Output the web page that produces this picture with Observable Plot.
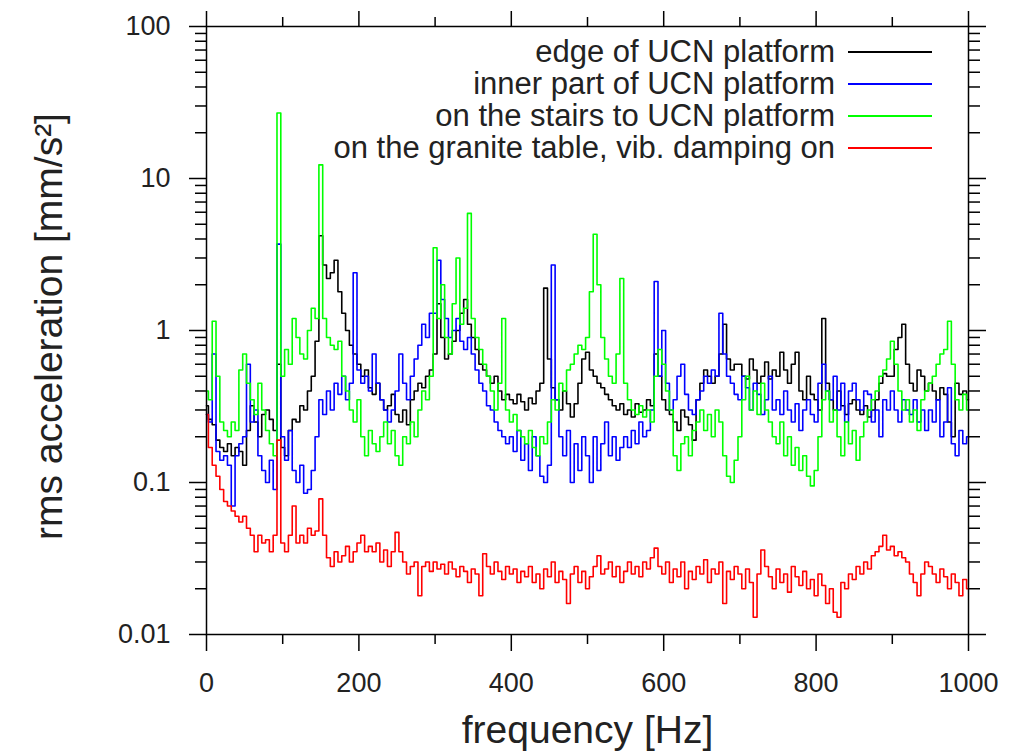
<!DOCTYPE html>
<html>
<head>
<meta charset="utf-8">
<script src="https://cdn.jsdelivr.net/npm/d3@7"></script>
<script src="https://cdn.jsdelivr.net/npm/@observablehq/plot@0.6"></script>
<style>
  html, body { margin: 0; padding: 0; background: #fff; }
  #wrap { position: relative; width: 1014px; height: 752px; overflow: hidden; font-family: "Liberation Sans", Arial, sans-serif; }
  #legend { position: absolute; left: 0; top: 36px; width: 932px; }
  .row { display: flex; justify-content: flex-end; align-items: center; height: 32px; }
  .row span { font-size: 31px; color: #222; margin-right: 13px; white-space: nowrap; line-height: 32px; }
  .row i { display: block; width: 84px; height: 2px; }
</style>
</head>
<body>
<div id="wrap"><div id="legend"></div></div>
<script>
// frequency grid in Hz (5 Hz steps)
const freq = d3.range(0, 1001, 5);

const seriesNames = [
  "edge of UCN platform",
  "inner part of UCN platform",
  "on the stairs to UCN platform",
  "on the granite table, vib. damping on"
];
const seriesColors = ["#000000", "#0000ff", "#00ff00", "#ff0000"];

// rms acceleration [mm/s^2]
const edge = [
  0.32,0.26,0.24,0.19,0.17,0.16,0.18,0.15,0.17,0.16,
  0.13,0.22,0.32,0.25,0.20,0.28,0.30,0.26,0.22,0.60,
  0.17,0.15,0.22,0.26,0.25,0.32,0.30,0.40,0.50,0.85,
  4.2,2.7,2.2,2.4,2.9,1.8,1.3,1.0,0.8,0.7,
  0.6,0.5,0.55,0.42,0.38,0.45,0.35,0.30,0.32,0.38,
  0.28,0.25,0.30,0.24,0.35,0.40,0.45,0.42,0.50,0.55,
  0.7,1.5,0.9,0.65,0.7,0.85,1.0,1.3,1.6,1.1,
  0.9,0.75,0.6,0.55,0.5,0.45,0.5,0.4,0.35,0.38,
  0.35,0.33,0.38,0.34,0.30,0.36,0.33,0.40,0.45,1.9,
  0.65,0.42,0.35,0.30,0.40,0.33,0.27,0.33,0.45,0.65,
  0.72,0.55,0.5,0.45,0.42,0.38,0.35,0.32,0.30,0.33,
  0.28,0.30,0.27,0.33,0.29,0.30,0.35,0.32,0.7,0.5,
  0.35,0.30,0.28,0.25,0.22,0.30,0.27,0.24,0.19,0.35,
  0.45,0.55,0.50,0.45,0.5,0.7,1.1,0.65,0.55,0.6,
  0.6,0.5,0.48,0.65,0.55,0.45,0.5,0.62,0.48,0.55,
  0.5,0.72,0.55,0.45,0.6,0.72,0.4,0.35,0.5,0.38,
  0.35,0.3,1.2,0.45,0.35,0.3,0.4,0.32,0.28,0.33,
  0.35,0.3,0.28,0.32,0.27,0.3,0.35,0.45,0.52,0.5,
  0.5,0.75,0.9,1.1,0.6,0.45,0.4,0.55,0.5,0.4,
  0.45,0.4,0.35,0.42,0.38,0.25,0.2,0.45,0.38,0.4,
  0.35
];
const inner = [
  0.28,0.25,0.7,0.16,0.14,0.15,0.13,0.07,0.15,0.18,
  0.2,0.6,0.25,0.3,0.15,0.12,0.1,0.14,0.09,3.7,
  0.2,0.14,0.22,0.12,0.1,0.13,0.085,0.09,0.12,0.2,
  0.35,0.28,0.4,0.3,0.45,0.38,0.5,0.35,0.45,2.4,
  0.55,0.45,0.5,0.4,0.7,0.45,0.35,0.3,0.25,0.3,
  0.4,0.7,0.45,0.35,0.5,0.65,0.8,1.1,0.9,1.3,
  1.3,2.9,1.6,1.2,0.9,1.0,1.2,0.85,0.75,0.9,
  0.7,0.55,0.45,0.4,0.32,0.3,0.25,0.22,0.2,0.18,
  0.2,0.16,0.22,0.14,0.18,0.12,0.2,0.15,0.11,0.1,
  0.13,2.7,0.35,0.2,0.15,0.22,0.1,0.18,0.12,0.2,
  0.15,0.1,0.2,0.12,0.18,0.25,0.15,0.2,0.14,0.17,
  0.2,0.17,0.22,0.18,0.25,0.2,0.22,0.3,2.1,0.5,
  1.0,0.45,0.3,0.35,0.5,0.6,0.38,0.3,0.28,0.35,
  0.4,0.5,0.45,0.55,0.5,1.3,0.7,0.5,0.45,0.38,
  0.35,0.5,0.42,0.3,0.45,0.38,0.28,0.35,0.5,0.3,
  0.35,0.28,0.4,0.3,0.25,0.33,0.22,0.3,0.35,0.28,
  0.25,0.45,0.6,0.4,0.35,0.5,0.3,0.45,0.25,0.4,
  0.45,0.35,0.3,0.4,0.38,0.25,0.3,0.2,0.35,0.3,
  0.4,0.3,0.25,0.35,0.3,0.28,0.35,0.25,0.3,0.22,
  0.3,0.25,0.35,0.2,0.25,0.42,0.18,0.15,0.22,0.18,
  0.2
];
const stairs = [
  0.4,0.35,1.15,0.5,0.25,0.22,0.2,0.25,0.22,0.55,
  0.7,0.45,0.35,0.28,0.45,0.3,0.22,0.18,0.15,27,
  0.5,0.75,0.6,1.2,0.9,0.7,0.65,1.0,1.4,1.2,
  12.3,1.2,0.9,0.8,0.75,0.85,0.5,0.4,0.3,0.25,
  0.35,0.2,0.15,0.22,0.18,0.16,0.2,0.25,0.18,0.22,
  0.15,0.13,0.2,0.18,0.25,0.2,0.3,0.4,0.35,0.5,
  3.5,1.2,2.0,0.9,0.7,1.5,3.0,1.1,1.4,5.9,
  1.2,0.9,0.75,0.6,0.5,0.4,0.3,0.45,1.2,0.3,
  0.25,0.28,0.22,0.2,0.18,0.22,0.17,0.15,0.2,0.18,
  0.25,0.35,0.3,0.45,0.4,0.55,0.6,0.7,0.8,0.75,
  0.9,1.8,4.3,2.0,0.9,0.65,0.5,0.45,0.7,2.2,
  0.45,0.35,0.3,0.28,0.32,0.27,0.3,0.25,0.5,0.75,
  0.6,0.4,0.3,0.15,0.12,0.18,0.2,0.15,0.22,0.25,
  0.3,0.22,0.28,0.2,0.3,0.25,0.15,0.11,0.1,0.14,
  0.2,0.35,0.5,0.3,0.4,0.28,0.45,0.3,0.25,0.2,
  0.18,0.25,0.15,0.2,0.13,0.17,0.12,0.15,0.11,0.095,
  0.12,0.2,0.35,0.4,0.25,0.3,0.2,0.15,0.25,0.18,
  0.22,0.14,0.2,0.25,0.3,0.35,0.4,0.5,0.55,0.65,
  0.85,0.6,0.4,0.3,0.35,0.25,0.3,0.22,0.35,0.4,
  0.45,0.5,0.6,0.7,0.75,1.15,0.6,0.35,0.3,0.38,
  0.3
];
const granite = [
  0.28,0.17,0.13,0.11,0.09,0.075,0.07,0.065,0.06,0.055,
  0.06,0.05,0.045,0.035,0.045,0.04,0.042,0.035,0.045,0.19,
  0.04,0.035,0.045,0.07,0.04,0.045,0.04,0.05,0.045,0.048,
  0.078,0.045,0.032,0.028,0.035,0.03,0.033,0.038,0.03,0.035,
  0.04,0.045,0.035,0.038,0.035,0.04,0.03,0.036,0.028,0.035,
  0.047,0.035,0.03,0.025,0.028,0.03,0.018,0.028,0.03,0.026,
  0.03,0.027,0.029,0.025,0.03,0.027,0.024,0.028,0.026,0.022,
  0.027,0.025,0.018,0.034,0.028,0.025,0.03,0.026,0.023,0.028,
  0.025,0.027,0.022,0.026,0.024,0.028,0.022,0.025,0.02,0.027,
  0.024,0.03,0.022,0.026,0.023,0.016,0.025,0.028,0.022,0.026,
  0.02,0.024,0.028,0.033,0.025,0.027,0.03,0.024,0.028,0.022,
  0.026,0.03,0.025,0.028,0.024,0.03,0.027,0.032,0.037,0.028,
  0.025,0.03,0.022,0.027,0.024,0.03,0.02,0.026,0.023,0.028,
  0.025,0.031,0.022,0.027,0.025,0.03,0.016,0.026,0.023,0.028,
  0.025,0.02,0.027,0.022,0.013,0.025,0.036,0.028,0.024,0.02,
  0.027,0.022,0.025,0.019,0.028,0.024,0.021,0.026,0.02,0.023,
  0.018,0.025,0.021,0.016,0.02,0.014,0.013,0.022,0.02,0.025,
  0.023,0.028,0.025,0.03,0.027,0.033,0.035,0.038,0.045,0.036,
  0.038,0.033,0.035,0.032,0.03,0.025,0.022,0.018,0.025,0.03,
  0.028,0.025,0.022,0.027,0.024,0.02,0.025,0.022,0.018,0.023,
  0.02
];

// axis ticks
const xMajor = [0, 200, 400, 600, 800, 1000];
const xMinor = [100, 300, 500, 700, 900];
const yMajor = [0.01, 0.1, 1, 10, 100];
const yMinor = [0.02,0.03,0.04,0.05,0.06,0.07,0.08,0.09,
                0.2,0.3,0.4,0.5,0.6,0.7,0.8,0.9,
                2,3,4,5,6,7,8,9,
                20,30,40,50,60,70,80,90];

const allSeries = [edge, inner, stairs, granite];
const tables = allSeries.map((vals, k) => freq.map((f, i) => ({f, v: vals[i], s: seriesNames[k]})));

const blank = () => "";
const sw = 1.5;

const chart = Plot.plot({
  width: 1014,
  height: 752,
  marginLeft: 206,
  marginRight: 46,
  marginTop: 26,
  marginBottom: 118,
  style: {fontFamily: "'Liberation Sans', Arial, sans-serif", fontSize: "27px", background: "white", color: "#222", overflow: "visible"},
  x: {domain: [0, 1000], label: null},
  y: {type: "log", domain: [0.01, 100], label: null},
  marks: [
    Plot.axisY(yMajor, {anchor: "left", tickSize: 17, tickPadding: 19, tickFormat: d => String(d), label: null, strokeWidth: sw, stroke: "#000"}),
    Plot.axisY(yMinor, {anchor: "left", tickSize: 11, tickFormat: blank, label: null, strokeWidth: sw, stroke: "#000"}),
    Plot.axisY(yMajor, {anchor: "right", tickSize: 17, tickFormat: blank, label: null, strokeWidth: sw, stroke: "#000"}),
    Plot.axisY(yMinor, {anchor: "right", tickSize: 11, tickFormat: blank, label: null, strokeWidth: sw, stroke: "#000"}),
    Plot.axisX(xMajor, {anchor: "bottom", tickSize: 17, tickPadding: 21, tickFormat: d => String(d), label: null, strokeWidth: sw, stroke: "#000"}),
    Plot.axisX(xMinor, {anchor: "bottom", tickSize: 10, tickFormat: blank, label: null, strokeWidth: sw, stroke: "#000"}),
    Plot.axisX(xMajor, {anchor: "top", tickSize: 16, tickFormat: blank, label: null, strokeWidth: sw, stroke: "#000"}),
    Plot.axisX(xMinor, {anchor: "top", tickSize: 10, tickFormat: blank, label: null, strokeWidth: sw, stroke: "#000"}),
    ...tables.map((t, k) => Plot.lineY(t, {x: "f", y: "v", curve: "step", stroke: seriesColors[k], strokeWidth: 1.6})),
    Plot.frame({stroke: "#000", strokeWidth: sw}),
    Plot.text(["frequency [Hz]"], {text: d => d, frameAnchor: "bottom", textAnchor: "middle", dy: 96, fontSize: 39, lineAnchor: "middle", fill: "#222"}),
    Plot.text(["rms acceleration [mm/s²]"], {text: d => d, frameAnchor: "left", textAnchor: "middle", dx: -157, dy: -4, rotate: -90, fontSize: 39, lineAnchor: "middle", fill: "#222"})
  ]
});

const wrap = document.getElementById("wrap");
wrap.insertBefore(chart, wrap.firstChild);

// legend
const legend = document.getElementById("legend");
seriesNames.forEach((name, k) => {
  const row = document.createElement("div");
  row.className = "row";
  const span = document.createElement("span");
  span.textContent = name;
  const swatch = document.createElement("i");
  swatch.style.background = seriesColors[k];
  row.appendChild(span);
  row.appendChild(swatch);
  legend.appendChild(row);
});
</script>
</body>
</html>
